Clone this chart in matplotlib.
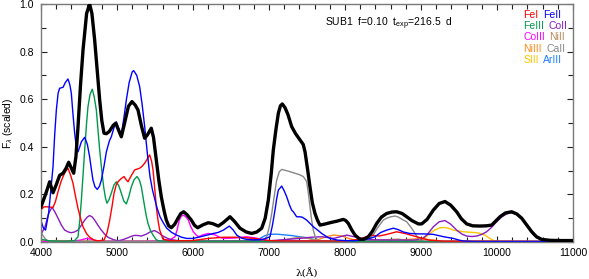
import numpy as np
import matplotlib
matplotlib.use("Agg")
import matplotlib.pyplot as plt
from matplotlib.ticker import MultipleLocator

plt.rcParams['font.family'] = ['Liberation Sans', 'DejaVu Sans']
plt.rcParams['mathtext.fontset'] = 'custom'
plt.rcParams['mathtext.rm'] = 'Liberation Sans'
plt.rcParams['mathtext.it'] = 'Liberation Sans:italic'

# ---------------- data ----------------
total_wl = [4000, 4060, 4114, 4158, 4200, 4245, 4290, 4330, 4364, 4400, 4430, 4460, 4487, 4520, 4553,
            4600, 4640, 4670, 4706, 4740, 4772, 4800, 4829, 4860, 4900, 4950, 4983, 5020, 5057, 5100,
            5150, 5197, 5240, 5276, 5320, 5364, 5400, 5451, 5480, 5517, 5550, 5583, 5620, 5649, 5680,
            5715, 5760, 5803, 5840, 5877, 5920, 5978, 6020, 6061, 6130, 6201, 6260, 6333, 6400, 6487,
            6550, 6618, 6700, 6772, 6840, 6904, 6950, 6991, 7030, 7057, 7090, 7123, 7150, 7175, 7210,
            7250, 7298, 7350, 7408, 7450, 7474, 7510, 7539, 7570, 7605, 7640, 7671, 7730, 7803, 7900,
            7978, 8010, 8044, 8090, 8132, 8197, 8250, 8307, 8360, 8417, 8480, 8549, 8620, 8680, 8750,
            8812, 8880, 8965, 9009, 9080, 9162, 9240, 9316, 9390, 9469, 9530, 9601, 9680, 9776, 9860,
            9930, 9990, 10039, 10110, 10193, 10260, 10325, 10390, 10457, 10520, 10588, 10700, 10850, 11000]
total_flux = [0.148, 0.20, 0.253, 0.207, 0.24, 0.28, 0.289, 0.31, 0.335, 0.31, 0.289, 0.36, 0.485, 0.66, 0.807,
              0.96, 1.0, 0.96, 0.849, 0.72, 0.597, 0.51, 0.457, 0.455, 0.465, 0.49, 0.499, 0.47, 0.442, 0.50,
              0.57, 0.59, 0.575, 0.555, 0.49, 0.436, 0.45, 0.478, 0.44, 0.345, 0.26, 0.19, 0.13, 0.092, 0.068,
              0.06, 0.075, 0.10, 0.12, 0.127, 0.115, 0.092, 0.07, 0.06, 0.072, 0.081, 0.077, 0.067, 0.082, 0.106,
              0.085, 0.058, 0.042, 0.036, 0.042, 0.058, 0.10, 0.176, 0.29, 0.387, 0.47, 0.541, 0.572, 0.58, 0.565,
              0.535, 0.485, 0.455, 0.429, 0.41, 0.379, 0.30, 0.232, 0.165, 0.12, 0.09, 0.071, 0.075, 0.081, 0.088,
              0.095, 0.09, 0.078, 0.05, 0.029, 0.011, 0.012, 0.022, 0.045, 0.078, 0.105, 0.12, 0.126, 0.127, 0.12,
              0.106, 0.09, 0.076, 0.076, 0.095, 0.134, 0.162, 0.170, 0.155, 0.127, 0.098, 0.076, 0.068, 0.067, 0.068,
              0.071, 0.09, 0.106, 0.122, 0.127, 0.118, 0.10, 0.072, 0.043, 0.022, 0.011, 0.007, 0.006, 0.006]

fe1_wl = [4000, 4040, 4070, 4110, 4158, 4190, 4224, 4260, 4290, 4320, 4355, 4390, 4421, 4455, 4487, 4520,
          4553, 4600, 4640, 4700, 4750, 4829, 4870, 4904, 4935, 4961, 4990, 5013, 5050, 5092, 5120, 5145,
          5190, 5233, 5298, 5330, 5364, 5400, 5430, 5455, 5474, 5495, 5517, 5540, 5562, 5605, 5700, 5900,
          6000, 6200, 6400, 6600, 6800, 7000, 7200, 8000, 8200, 8329, 8450, 8550, 8680, 8800, 8943, 9100,
          9300, 11000]
fe1_flux = [0.135, 0.148, 0.148, 0.147, 0.145, 0.17, 0.211, 0.25, 0.275, 0.295, 0.31, 0.28, 0.247, 0.19, 0.141, 0.10,
            0.064, 0.035, 0.02, 0.008, 0.005, 0.008, 0.04, 0.092, 0.15, 0.205, 0.24, 0.253, 0.265, 0.275, 0.262, 0.253,
            0.28, 0.303, 0.31, 0.318, 0.331, 0.35, 0.366, 0.34, 0.303, 0.23, 0.148, 0.09, 0.05, 0.012, 0.005, 0.005,
            0.006, 0.015, 0.02, 0.02, 0.015, 0.006, 0.004, 0.004, 0.012, 0.029, 0.025, 0.032, 0.043, 0.035, 0.022, 0.008,
            0.003, 0.002]

fe2_wl = [4000, 4030, 4060, 4100, 4130, 4158, 4180, 4202, 4225, 4245, 4290, 4320, 4355, 4380, 4399, 4420,
          4443, 4465, 4487, 4510, 4531, 4575, 4610, 4640, 4665, 4684, 4710, 4741, 4770, 4794, 4830, 4860,
          4900, 4925, 4960, 4991, 5020, 5057, 5090, 5123, 5160, 5200, 5220, 5260, 5298, 5330, 5364, 5400,
          5434, 5466, 5500, 5530, 5566, 5610, 5654, 5720, 5785, 5850, 5917, 6000, 6070, 6136, 6200, 6268,
          6330, 6400, 6478, 6530, 6575, 6640, 6706, 6800, 6900, 6960, 7013, 7045, 7079, 7100, 7123, 7167,
          7200, 7233, 7270, 7298, 7320, 7364, 7408, 7440, 7496, 7540, 7583, 7640, 7693, 7750, 7803, 7900,
          8000, 8100, 8200, 8300, 8395, 8470, 8549, 8636, 8700, 8768, 8850, 8965, 9050, 9162, 9300, 9425,
          9500, 9560, 9700, 11000]
fe2_flux = [0.09, 0.06, 0.05, 0.12, 0.22, 0.316, 0.45, 0.555, 0.625, 0.646, 0.65, 0.67, 0.685, 0.66, 0.625, 0.54,
            0.457, 0.40, 0.379, 0.40, 0.421, 0.44, 0.41, 0.358, 0.30, 0.26, 0.232, 0.221, 0.235, 0.26, 0.32, 0.379,
            0.425, 0.442, 0.48, 0.505, 0.48, 0.45, 0.52, 0.597, 0.67, 0.715, 0.72, 0.70, 0.653, 0.58, 0.485, 0.37,
            0.275, 0.22, 0.176, 0.14, 0.106, 0.08, 0.058, 0.04, 0.029, 0.02, 0.015, 0.015, 0.02, 0.025, 0.03, 0.036,
            0.04, 0.05, 0.067, 0.05, 0.029, 0.016, 0.011, 0.009, 0.01, 0.015, 0.022, 0.07, 0.134, 0.18, 0.218, 0.235,
            0.215, 0.19, 0.155, 0.134, 0.127, 0.106, 0.106, 0.104, 0.092, 0.078, 0.064, 0.05, 0.036, 0.024, 0.015, 0.008,
            0.006, 0.005, 0.007, 0.012, 0.022, 0.04, 0.05, 0.058, 0.052, 0.042, 0.036, 0.034, 0.034, 0.032, 0.022, 0.015,
            0.008, 0.004, 0.002, 0.002]

fe3_wl = [4000, 4100, 4300, 4440, 4487, 4510, 4531, 4555, 4575, 4600, 4618, 4645, 4675, 4700, 4728, 4750,
          4772, 4800, 4824, 4848, 4868, 4895, 4925, 4960, 4991, 5025, 5057, 5090, 5123, 5155, 5189, 5225,
          5263, 5295, 5320, 5342, 5364, 5385, 5408, 5440, 5474, 5510, 5540, 5700, 11000]
fe3_flux = [0.012, 0.005, 0.003, 0.005, 0.022, 0.09, 0.176, 0.29, 0.387, 0.50, 0.568, 0.62, 0.642, 0.61, 0.555, 0.47,
            0.387, 0.30, 0.232, 0.185, 0.163, 0.178, 0.205, 0.24, 0.253, 0.235, 0.205, 0.172, 0.16, 0.19, 0.232, 0.262,
            0.275, 0.26, 0.232, 0.19, 0.148, 0.11, 0.078, 0.048, 0.029, 0.012, 0.005, 0.003, 0.002]

co2_wl = [4000, 4053, 4100, 4145, 4185, 4224, 4270, 4311, 4360, 4399, 4440, 4487, 4530, 4575, 4610, 4640,
          4675, 4706, 4750, 4794, 4840, 4882, 4950, 5013, 5080, 5145, 5190, 5233, 5280, 5320, 5380, 5440,
          5496, 5550, 5605, 5660, 5715, 5800, 6000, 6500, 7000, 7200, 7400, 7550, 7700, 7850, 8022, 8150,
          8300, 8600, 8900, 9009, 9080, 9162, 9240, 9316, 9390, 9469, 9540, 9601, 9670, 9733, 9800, 9864,
          9930, 9995, 10060, 10127, 10193, 10260, 10325, 10390, 10457, 10520, 10588, 10700, 11000]
co2_flux = [0.032, 0.064, 0.12, 0.146, 0.125, 0.10, 0.07, 0.05, 0.042, 0.039, 0.042, 0.05, 0.07, 0.092, 0.105, 0.111,
            0.105, 0.092, 0.07, 0.05, 0.032, 0.02, 0.01, 0.005, 0.01, 0.018, 0.024, 0.028, 0.027, 0.025, 0.032, 0.043,
            0.048, 0.038, 0.025, 0.016, 0.01, 0.006, 0.004, 0.004, 0.005, 0.01, 0.015, 0.02, 0.022, 0.015, 0.029, 0.02,
            0.01, 0.008, 0.008, 0.012, 0.03, 0.064, 0.085, 0.09, 0.075, 0.05, 0.033, 0.025, 0.023, 0.025, 0.032, 0.043,
            0.062, 0.085, 0.105, 0.118, 0.123, 0.115, 0.096, 0.068, 0.039, 0.018, 0.008, 0.004, 0.003]

co3_wl = [4000, 4400, 4520, 4600, 4680, 4750, 5400, 5600, 5700, 5763, 5790, 5820, 5845, 5873, 5905, 5939,
          5970, 6004, 6040, 6070, 6130, 6201, 6290, 6350, 6399, 6500, 6600, 6700, 6800, 6900, 7000, 7200,
          7500, 8000, 11000]
co3_flux = [0.002, 0.003, 0.008, 0.015, 0.01, 0.003, 0.003, 0.005, 0.01, 0.022, 0.05, 0.092, 0.108, 0.113, 0.106, 0.092,
            0.065, 0.043, 0.03, 0.022, 0.03, 0.036, 0.03, 0.02, 0.015, 0.016, 0.018, 0.022, 0.018, 0.012, 0.005, 0.005,
            0.004, 0.003, 0.002]

ni2_wl = [4000, 7000, 7200, 7300, 7420, 7520, 7600, 7700, 8400, 8550, 8700, 8850, 9000, 11000]
ni2_flux = [0.003, 0.003, 0.008, 0.015, 0.02, 0.015, 0.008, 0.003, 0.004, 0.01, 0.012, 0.006, 0.002, 0.002]

ni3_wl = [4000, 4200, 4400, 4700, 7500, 7650, 7750, 7850, 7950, 8050, 8150, 8300, 8800, 9000, 9100, 9300, 11000]
ni3_flux = [0.004, 0.006, 0.005, 0.003, 0.005, 0.01, 0.022, 0.029, 0.026, 0.015, 0.006, 0.004, 0.01, 0.015, 0.01, 0.004, 0.002]

ca2_wl = [4000, 4030, 4060, 4100, 6900, 6970, 7005, 7036, 7070, 7101, 7135, 7167, 7250, 7320, 7400, 7451,
          7480, 7496, 7520, 7539, 7560, 7583, 7610, 7650, 8250, 8329, 8380, 8438, 8504, 8549, 8600, 8660,
          8700, 8768, 8812, 8877, 8943, 8990, 9050, 11000]
ca2_flux = [0.04, 0.025, 0.012, 0.003, 0.002, 0.022, 0.065, 0.12, 0.195, 0.26, 0.295, 0.305, 0.298, 0.291, 0.283, 0.275,
            0.262, 0.253, 0.20, 0.148, 0.095, 0.05, 0.02, 0.004, 0.003, 0.015, 0.035, 0.064, 0.092, 0.10, 0.106, 0.109,
            0.105, 0.092, 0.085, 0.058, 0.025, 0.008, 0.002, 0.002]

s3_wl = [4000, 8800, 8950, 9009, 9060, 9118, 9180, 9250, 9316, 9380, 9425, 9500, 9557, 9650, 9733, 9790,
         9842, 9880, 9930, 9970, 10000, 11000]
s3_flux = [0.001, 0.002, 0.004, 0.008, 0.02, 0.036, 0.05, 0.06, 0.061, 0.056, 0.05, 0.046, 0.043, 0.041, 0.039, 0.035,
           0.029, 0.02, 0.011, 0.004, 0.001, 0.001]

ar3_wl = [4000, 6700, 6800, 6880, 6950, 7000, 7100, 7200, 7300, 7400, 7500, 7600, 7700, 7800, 11000]
ar3_flux = [0.001, 0.003, 0.006, 0.015, 0.027, 0.032, 0.033, 0.03, 0.027, 0.022, 0.018, 0.01, 0.004, 0.002, 0.001]

base_wl = [4000, 11000]
base_flux = [0.0, 0.0]

ions = ['FeI', 'FeII', 'FeIII', 'CoII', 'CoIII', 'NiII', 'NiIII', 'CaII', 'SIII', 'ArIII']
ion_colors = ['#ff0000', '#0000ff', '#00994c', '#8a1cc0', '#ff00ff', '#b5895a', '#ff8c1a', '#888888', '#ffc400', '#1e7fff']
ion_wl = [fe1_wl, fe2_wl, fe3_wl, co2_wl, co3_wl, ni2_wl, ni3_wl, ca2_wl, s3_wl, ar3_wl]
ion_flux = [fe1_flux, fe2_flux, fe3_flux, co2_flux, co3_flux, ni2_flux, ni3_flux, ca2_flux, s3_flux, ar3_flux]

# ---------------- figure ----------------
W, H = 589, 279
fig = plt.figure(figsize=(W / 100, H / 100), dpi=100)
L, R, B, T = 41, 573, 242, 4
ax = fig.add_axes([L / W, 1 - B / H, (R - L) / W, (B - T) / H])

ax.plot(base_wl, base_flux, color='#003a5c', lw=1.4, zorder=1)
draw_order = [9, 8, 6, 5, 4, 3, 7, 2, 0, 1]
for i in draw_order:
    ax.plot(ion_wl[i], ion_flux[i], color=ion_colors[i], lw=1.0, zorder=2)
ax.plot(total_wl, total_flux, color='black', lw=2.4, zorder=3, solid_joinstyle='round')

ax.set_xlim(4000, 11000)
ax.set_ylim(0.0, 1.0)
ax.xaxis.set_major_locator(MultipleLocator(1000))
ax.xaxis.set_minor_locator(MultipleLocator(200))
ax.yaxis.set_major_locator(MultipleLocator(0.2))
ax.yaxis.set_minor_locator(MultipleLocator(0.1))
ax.yaxis.set_major_formatter(matplotlib.ticker.FormatStrFormatter('%.1f'))
ax.tick_params(which='both', direction='in', top=True, right=True, color='#222222', width=0.8)
ax.tick_params(which='major', length=4.5, labelsize=7.5)
ax.tick_params(which='minor', length=3.5)
ax.tick_params(axis='x', pad=4)
ax.tick_params(axis='y', pad=5)
for s in ax.spines.values():
    s.set_color('#7a7a7a')
    s.set_linewidth(1.0)

ax.set_ylabel(r'F$_{\lambda}$ (scaled)', fontsize=7.5, labelpad=3)
fig.text(307 / W, 1 - 273 / H, 'λ(Å)', family='DejaVu Serif', fontsize=7.5, ha='center', va='center')

ax.text(0.534, 0.916, r'SUB1  f=0.10  t$_{\mathrm{exp}}$=216.5  d', transform=ax.transAxes,
        fontsize=7.5, ha='left', va='center')

# legend: two colored words per row
rows_y = [0.954, 0.908, 0.860, 0.811, 0.763]
x0 = 0.9066
for r in range(5):
    i1, i2 = 2 * r, 2 * r + 1
    t1 = ax.text(x0, rows_y[r], ions[i1], color=ion_colors[i1], transform=ax.transAxes,
                 fontsize=7.5, ha='left', va='center')
    ax.annotate(ions[i2], xy=(1, 0.5), xycoords=t1, xytext=(3.2, 0), textcoords='offset points',
                color=ion_colors[i2], fontsize=7.5, ha='left', va='center')

fig.savefig('out.png', dpi=100)
